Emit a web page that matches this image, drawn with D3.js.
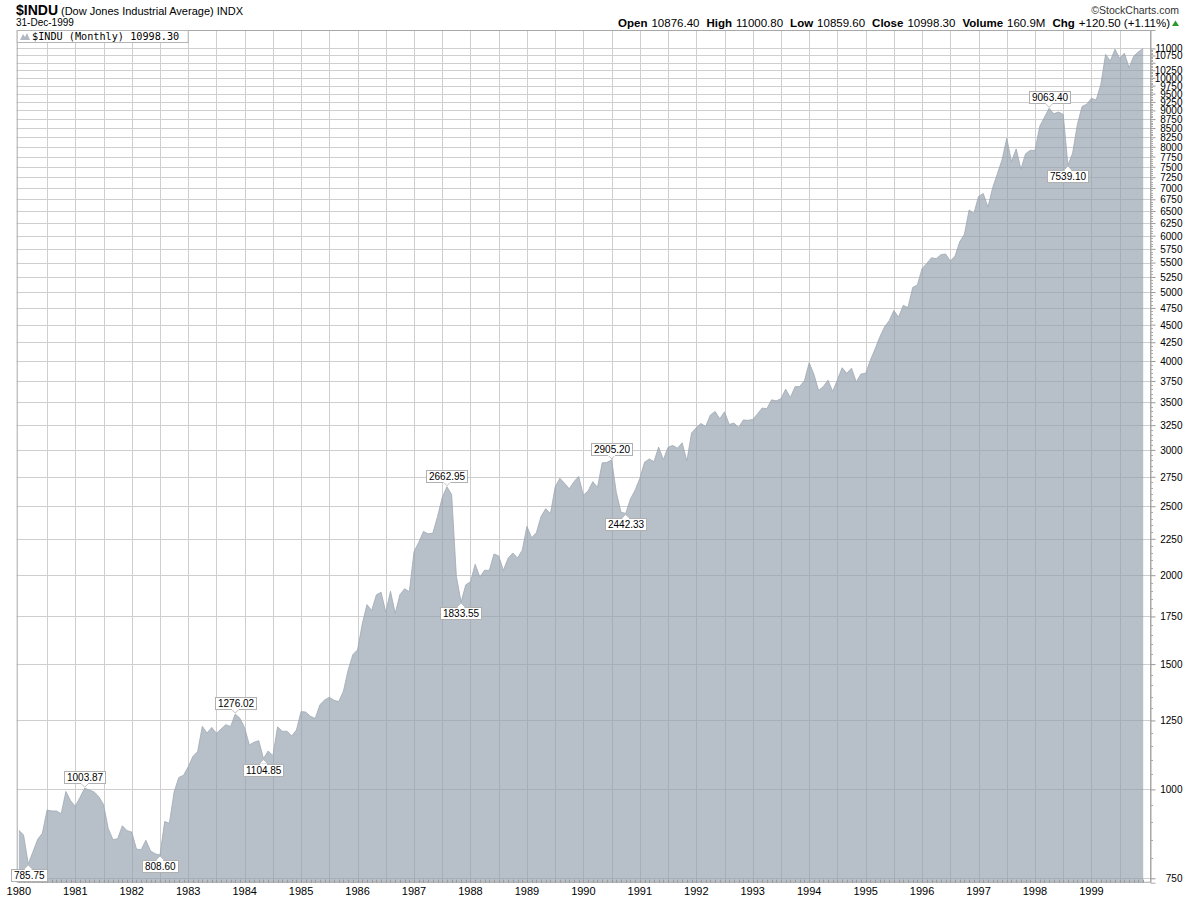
<!DOCTYPE html>
<html><head><meta charset="utf-8">
<script src="https://cdn.jsdelivr.net/npm/d3@7"></script>
<style>
html,body{margin:0;padding:0;background:#fff;}
svg{display:block;}
</style></head>
<body>
<svg id="chart" width="1200" height="900"></svg>
<script>
// ---- data ----
const years = ["1980","1981","1982","1983","1984","1985","1986","1987","1988","1989",
               "1990","1991","1992","1993","1994","1995","1996","1997","1998","1999"];
// monthly closes, Jan 1980 .. Dec 1999
const closes = [
 875.85, 863.14, 785.75, 817.06, 850.85, 867.92, 935.32, 932.59, 932.42, 924.49, 993.34, 963.99,
 947.27, 974.58,1003.87, 997.75, 991.75, 976.88, 952.34, 881.47, 849.98, 852.55, 888.98, 875.00,
 871.10, 824.39, 822.77, 848.36, 819.54, 811.93, 808.60, 901.31, 896.25, 991.72,1039.28,1046.54,
1075.70,1112.62,1130.03,1226.20,1199.98,1221.96,1199.22,1215.82,1233.13,1225.20,1276.02,1258.64,
1220.58,1154.63,1164.89,1170.75,1104.85,1132.40,1115.28,1224.38,1206.71,1207.38,1188.94,1211.57,
1286.77,1284.01,1266.78,1258.06,1315.41,1335.46,1347.45,1334.01,1328.63,1374.31,1472.13,1546.67,
1570.99,1709.06,1818.61,1783.98,1876.71,1892.72,1775.31,1898.34,1767.58,1877.81,1914.23,1895.95,
2158.04,2223.99,2304.69,2286.36,2291.57,2418.53,2572.07,2662.95,2596.28,1993.53,1833.55,1938.83,
1958.22,2071.62,1988.06,2032.33,2031.12,2141.71,2128.73,2031.65,2112.91,2148.65,2114.51,2168.57,
2342.32,2258.39,2293.62,2418.80,2480.15,2440.06,2660.66,2737.27,2692.82,2645.08,2706.27,2753.20,
2590.54,2627.25,2707.21,2656.76,2876.66,2880.69,2905.20,2614.36,2452.48,2442.33,2559.65,2633.66,
2736.39,2882.18,2913.86,2887.87,3027.50,2906.75,3024.82,3043.60,3016.77,3069.10,2894.68,3168.83,
3223.40,3267.70,3235.50,3359.10,3396.90,3318.50,3393.80,3257.40,3271.70,3226.30,3305.20,3301.10,
3310.00,3370.80,3435.10,3427.60,3527.40,3516.10,3539.50,3651.30,3555.10,3680.60,3683.90,3754.10,
3978.40,3832.00,3635.96,3681.69,3758.37,3624.96,3764.50,3913.42,3843.19,3908.12,3739.23,3834.44,
3843.86,4011.05,4157.69,4321.27,4465.14,4556.10,4708.47,4610.56,4789.08,4755.48,5074.49,5117.12,
5395.30,5485.62,5587.14,5569.08,5643.18,5654.63,5528.91,5616.21,5882.17,6029.38,6521.70,6448.27,
6813.09,6877.74,6583.48,7008.99,7331.04,7672.79,8222.61,7622.42,7945.26,7442.08,7823.13,7908.25,
7906.50,8545.72,8799.81,9063.40,8899.95,8952.02,8883.29,7539.10,7842.62,8592.10,9116.55,9181.43,
9358.83,9306.58,9786.16,10789.04,10559.74,10970.80,10655.15,10829.28,10336.95,10729.86,10877.81,10998.30
];
// annotated highs / lows: month index, kind
const annotIdx  = [2, 14, 30, 46, 52, 91, 94, 126, 129, 219, 223];
const annotKind = ["low","high","low","high","low","high","low","high","low","high","low"];
// right axis ticks
const yTicks = [750,1000,1250,1500,1750,2000,2250,2500,2750,3000,3250,3500,3750,4000,4250,4500,4750,
  5000,5250,5500,5750,6000,6250,6500,6750,7000,7250,7500,7750,8000,8250,8500,8750,9000,9250,9500,
  9750,10000,10250,10500,10750,11000];
const yTickLabelsHidden = [10500];
const headerStats = [["Open","10876.40"],["High","11000.80"],["Low","10859.60"],["Close","10998.30"],["Volume","160.9M"],["Chg","+120.50 (+1.11%)"]];

// ---- layout ----
const L = 16.7, R = 1151, T = 30, B = 882.7;
const svg = d3.select("#chart");
const x = d3.scaleLinear().domain([0, closes.length - 1]).range([18.85, 1143.2]);
const y = d3.scaleLog().domain([739.4, 11674]).range([B, T]);
const FONT = "'Liberation Sans', Arial, sans-serif";

// plot background
svg.append("rect").attr("x", L).attr("y", T).attr("width", R - L).attr("height", B - T).attr("fill", "#fff");

// grid
const grid = svg.append("g").attr("stroke", "#cfcfcf").attr("stroke-width", 1);
grid.selectAll("line.h").data(yTicks).join("line")
  .attr("x1", L).attr("x2", R)
  .attr("y1", d => Math.round(y(d)) + 0.5).attr("y2", d => Math.round(y(d)) + 0.5);
const halfYears = d3.range(6, closes.length, 6);
grid.selectAll("line.v").data(halfYears).join("line")
  .attr("y1", T).attr("y2", B)
  .attr("x1", d => Math.round(x(d)) + 0.5).attr("x2", d => Math.round(x(d)) + 0.5);

// area
const area = d3.area().x((d, i) => x(i)).y0(B).y1(d => y(d));
svg.append("path").datum(closes).attr("d", area)
  .attr("fill", "rgb(145,156,170)").attr("fill-opacity", 0.65);
const line = d3.line().x((d, i) => x(i)).y(d => y(d));
svg.append("path").datum(closes).attr("d", line)
  .attr("fill", "none").attr("stroke", "rgb(160,168,178)").attr("stroke-width", 0.8);

// frame
svg.append("rect").attr("x", L + 0.5).attr("y", T + 0.5).attr("width", R - L - 1).attr("height", B - T - 1)
  .attr("fill", "none").attr("stroke", "#a8a8a8");

// minor ticks bottom (monthly)
svg.append("g").attr("stroke", "#999").selectAll("line").data(d3.range(0, closes.length)).join("line")
  .attr("x1", d => Math.round(x(d)) + 0.5).attr("x2", d => Math.round(x(d)) + 0.5)
  .attr("y1", B - 3).attr("y2", B);

// right axis
const yAxis = d3.axisRight(y).tickValues(yTicks).tickSize(5)
  .tickFormat(d => yTickLabelsHidden.includes(d) ? "" : String(d));
const ga = svg.append("g").attr("transform", `translate(${R - 0.5},0)`).call(yAxis);
ga.select(".domain").attr("stroke", "#a8a8a8");
ga.selectAll(".tick line").attr("stroke", "#999");
ga.selectAll(".tick text").attr("x", 32).attr("text-anchor", "end").attr("dy", "0.34em")
  .attr("font-family", FONT).attr("font-size", 10).attr("fill", "#000");
// minor ticks right
svg.append("g").attr("stroke", "#aaa").selectAll("line").data(d3.range(800, 11000, 50).filter(v => v % 250 !== 0)).join("line")
  .attr("x1", R).attr("x2", R + 2)
  .attr("y1", d => Math.round(y(d)) + 0.5).attr("y2", d => Math.round(y(d)) + 0.5);

// year labels
svg.append("g").selectAll("text").data(years).join("text")
  .attr("x", (d, i) => x(i * 12))
  .attr("y", 895).attr("text-anchor", "middle")
  .attr("font-family", FONT).attr("font-size", 11).attr("fill", "#000")
  .text(d => d);

// annotations
const ann = svg.append("g");
annotIdx.forEach((idx, k) => {
  const v = closes[idx];
  const px = x(idx), py = y(v);
  const label = v.toFixed(2);
  const g = ann.append("g");
  const t = g.append("text").attr("font-family", FONT).attr("font-size", 10).attr("fill", "#000").text(label);
  const w = t.node().getComputedTextLength() + 5, h = 12;
  let bx = px - w / 2;
  if (bx < 11) bx = 11;
  const high = annotKind[k] === "high";
  const by = high ? py - 5 - h : py + 5;
  const tipY = high ? py - 1 : py + 1;
  const baseY = high ? by + h : by;
  g.insert("path", "text")
    .attr("d", `M${px - 4},${baseY} L${px},${tipY} L${px + 4},${baseY}`)
    .attr("fill", "#fff").attr("stroke", "#b0b0b0").attr("stroke-width", 0.8);
  g.insert("rect", "text").attr("x", Math.round(bx) + 0.5).attr("y", Math.round(by) + 0.5)
    .attr("width", Math.round(w)).attr("height", h)
    .attr("fill", "#fff").attr("stroke", "#b0b0b0");
  g.insert("line", "text").attr("x1", px - 3.4).attr("x2", px + 3.4)
    .attr("y1", Math.round(baseY) + 0.5).attr("y2", Math.round(baseY) + 0.5).attr("stroke", "#fff").attr("stroke-width", 1.2);
  t.attr("x", Math.round(bx) + 3).attr("y", Math.round(by) + 10);
});

// legend box
const lg = svg.append("g");
lg.append("rect").attr("x", L + 0.5).attr("y", T + 0.5).attr("width", 171).attr("height", 12)
  .attr("fill", "#fff").attr("stroke", "#b5b5b5");
lg.append("path").attr("d", `M20,${T + 10} L23,${T + 4} L25,${T + 7} L27,${T + 3} L30,${T + 10} Z`)
  .attr("fill", "#b3b9c2");
lg.append("text").attr("x", 32).attr("y", T + 10)
  .attr("font-family", "'DejaVu Sans Mono', monospace").attr("font-size", 10.2).attr("fill", "#000")
  .text("$INDU (Monthly) " + closes[closes.length - 1].toFixed(2));

// header
const h1 = svg.append("text").attr("x", 16).attr("y", 15).attr("font-family", FONT).attr("fill", "#000");
h1.append("tspan").attr("font-size", 14).attr("font-weight", "bold").text("$INDU");
h1.append("tspan").attr("font-size", 11).attr("dx", 3).text("(Dow Jones Industrial Average) INDX");
svg.append("text").attr("x", 16).attr("y", 26).attr("font-family", FONT).attr("font-size", 10).text("31-Dec-1999");
svg.append("text").attr("x", 1179).attr("y", 14).attr("text-anchor", "end")
  .attr("font-family", FONT).attr("font-size", 10.5).attr("fill", "#333").text("\u00A9StockCharts.com");
const h2 = svg.append("text").attr("x", 1170).attr("y", 27).attr("text-anchor", "end")
  .attr("font-family", FONT).attr("font-size", 11.5).attr("fill", "#000");
headerStats.forEach(([k, v], i) => {
  h2.append("tspan").attr("font-weight", "bold").attr("dx", i ? 7 : 0).text(k);
  h2.append("tspan").attr("dx", 4).text(v);
});
svg.append("path").attr("d", "M1172,26 L1175.5,20.5 L1179,26 Z").attr("fill", "#2a9a2a");
</script>
</body></html>
